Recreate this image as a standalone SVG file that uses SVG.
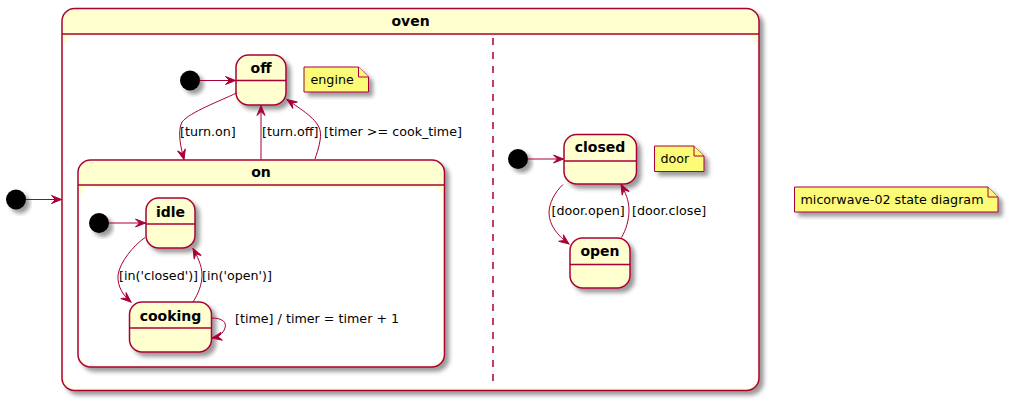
<svg xmlns="http://www.w3.org/2000/svg" width="1009" height="403" viewBox="0 0 1009 403">
<style>
.st{fill:#FEFECE;stroke:#A80036;stroke-width:1.5}
.body{fill:#FFFFFF;stroke:none}
.sep{stroke:#A80036;stroke-width:1.5;fill:none}
.note{fill:#FBFB77;stroke:#A80036;stroke-width:1}
.init{fill:#000000;stroke:none}
.name{font-family:"DejaVu Sans",sans-serif;font-size:14px;font-weight:bold;fill:#000;text-anchor:middle}
.lbl{font-family:"DejaVu Sans",sans-serif;font-size:12.7px;fill:#000}
.ntxt{font-family:"DejaVu Sans",sans-serif;font-size:12.7px;fill:#000}
.edge{fill:none;stroke:#A80036;stroke-width:1;marker-end:url(#arr)}
</style>
<defs>
<filter id="sh" x="-20%" y="-20%" width="150%" height="150%">
<feGaussianBlur in="SourceAlpha" stdDeviation="2"/>
<feOffset dx="4" dy="4" result="b"/>
<feComponentTransfer><feFuncA type="linear" slope="0.4"/></feComponentTransfer>
<feMerge><feMergeNode/><feMergeNode in="SourceGraphic"/></feMerge>
</filter>
<marker id="arr" viewBox="-11 -5 12 10" refX="0" refY="0" markerWidth="12" markerHeight="10" markerUnits="userSpaceOnUse" orient="auto">
<path d="M0,0 L-10,-4 L-6,0 L-10,4 Z" fill="#A80036" stroke="#A80036" stroke-width="1" stroke-linejoin="miter"/>
</marker>
</defs>
<rect width="1009" height="403" fill="#FFFFFF"/>

<g id="oven">
<rect class="st" x="62" y="8.5" width="697" height="382" rx="12.5" filter="url(#sh)"/>
<line class="sep" x1="62" y1="34" x2="759" y2="34"/>
<rect class="body" x="64" y="36" width="693" height="352.5" rx="11"/>
<text class="name" x="410.5" y="26">oven</text>
<line x1="493" y1="38" x2="493" y2="388" stroke="#A80036" stroke-width="1.5" stroke-dasharray="7,7"/>
</g>

<g id="on">
<rect class="st" x="78" y="160" width="366.5" height="207" rx="12.5" filter="url(#sh)"/>
<line class="sep" x1="78" y1="185" x2="444.5" y2="185"/>
<rect class="body" x="80" y="187" width="362.5" height="178" rx="11"/>
<text class="name" x="261" y="177">on</text>
</g>

<g id="init_oven"><circle class="init" cx="16" cy="199.5" r="10" filter="url(#sh)"/></g>
<g id="init_engine"><circle class="init" cx="190" cy="80.5" r="10" filter="url(#sh)"/></g>
<g id="init_on"><circle class="init" cx="99" cy="223" r="10" filter="url(#sh)"/></g>
<g id="init_door"><circle class="init" cx="518" cy="159" r="10" filter="url(#sh)"/></g>

<g id="off">
<rect class="st" x="236" y="55" width="50" height="50" rx="12.5" filter="url(#sh)"/>
<line class="sep" x1="236" y1="80.5" x2="286" y2="80.5"/>
<text class="name" x="261" y="73">off</text>
</g>

<g id="idle">
<rect class="st" x="146" y="198" width="49" height="50" rx="12.5" filter="url(#sh)"/>
<line class="sep" x1="146" y1="224" x2="195" y2="224"/>
<text class="name" x="170.5" y="217">idle</text>
</g>

<g id="cooking">
<rect class="st" x="129.5" y="302" width="82" height="50" rx="12.5" filter="url(#sh)"/>
<line class="sep" x1="129.5" y1="328" x2="211.5" y2="328"/>
<text class="name" x="170.5" y="321">cooking</text>
</g>

<g id="closed">
<rect class="st" x="564" y="134.5" width="72.5" height="49.5" rx="12.5" filter="url(#sh)"/>
<line class="sep" x1="564" y1="161" x2="636.5" y2="161"/>
<text class="name" x="600" y="152">closed</text>
</g>

<g id="open">
<rect class="st" x="570" y="238" width="60" height="50" rx="12.5" filter="url(#sh)"/>
<line class="sep" x1="570" y1="264.5" x2="630" y2="264.5"/>
<text class="name" x="600" y="256">open</text>
</g>

<g id="note_engine">
<path class="note" d="M304,67 L358.5,67 L368.5,77 L368.5,92 L304,92 Z" filter="url(#sh)"/>
<path class="note" d="M358.5,67 L358.5,77 L368.5,77" fill="none"/>
<text class="ntxt" x="310.5" y="84">engine</text>
</g>

<g id="note_door">
<path class="note" d="M654.5,146 L694,146 L704,156 L704,171.5 L654.5,171.5 Z" filter="url(#sh)"/>
<path class="note" d="M694,146 L694,156 L704,156" fill="none"/>
<text class="ntxt" x="660.5" y="163">door</text>
</g>

<g id="note_title">
<path class="note" d="M794.5,187 L988,187 L998,197 L998,212 L794.5,212 Z" filter="url(#sh)"/>
<path class="note" d="M988,187 L988,197 L998,197" fill="none"/>
<text class="ntxt" x="800.5" y="204">micorwave-02 state diagram</text>
</g>

<g id="connectors">
<path class="edge" d="M26,199.5 L61.5,199.5"/>
<path class="edge" d="M200,80.5 L235.5,80.5"/>
<path class="edge" d="M236.5,93 C220,101 190,112 182,122 C177,132 181,148 184,159.5"/>
<text class="lbl" x="180" y="136">[turn.on]</text>
<path class="edge" d="M261,160 L261,105.5"/>
<text class="lbl" x="262" y="136">[turn.off]</text>
<path class="edge" d="M315,159 C318,150 322,138 320,130 C317,119 302,110 287,99.5"/>
<text class="lbl" x="324" y="136">[timer &gt;= cook_time]</text>
<path class="edge" d="M109,223 L145.5,223"/>
<path class="edge" d="M145,237.5 C133,246 120,262 118,275 C117,287 124,296 131,302"/>
<text class="lbl" x="119" y="280">[in('closed')]</text>
<path class="edge" d="M193,302 C198,294 202,285 202,275 C202,265 197,256 193,248.5"/>
<text class="lbl" x="202" y="280">[in('open')]</text>
<path class="edge" d="M211.5,318 C222,318 227,322 225,328 C223,334 218,337 212,338"/>
<text class="lbl" x="235" y="323">[time] / timer = timer + 1</text>
<path class="edge" d="M528,159 L563.5,159"/>
<path class="edge" d="M563,184.5 C555,192 549,203 549,213 C549,225 558,236 569,244"/>
<text class="lbl" x="551.5" y="215">[door.open]</text>
<path class="edge" d="M621.5,237.5 C626,230 629,220 629,210 C629,200 625,192 621,184.5"/>
<text class="lbl" x="632" y="215">[door.close]</text>
</g>
</svg>
